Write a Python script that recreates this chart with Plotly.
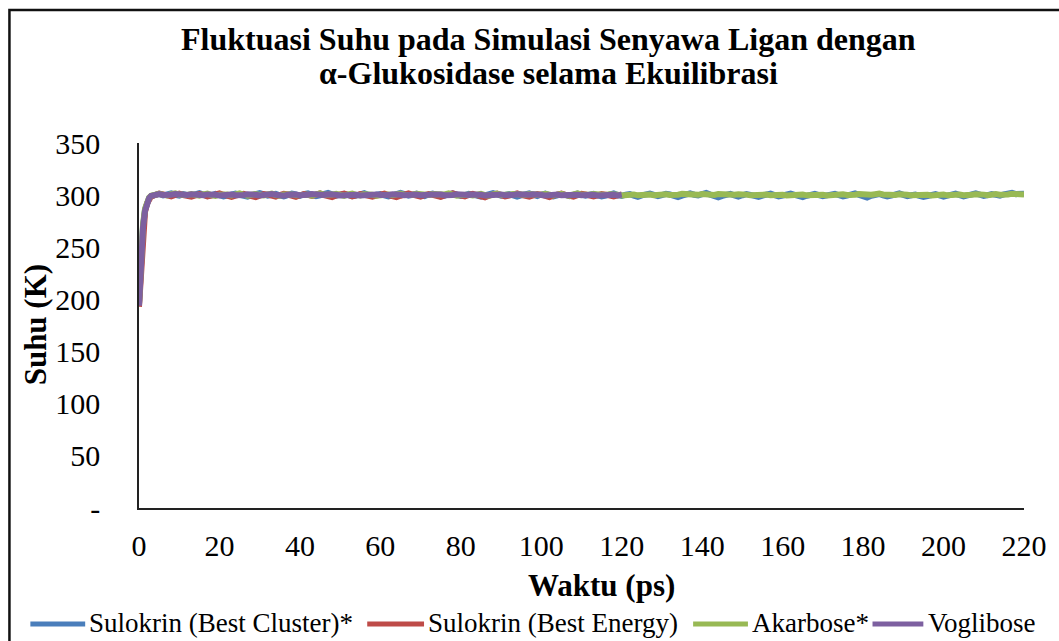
import plotly.graph_objects as go

# ---------------- data ----------------
TIME_START = [0, 0.5, 1, 1.5, 2, 2.5]
TIME_LONG = TIME_START + list(range(3, 221))
TIME_SHORT = TIME_START + list(range(3, 121))

sulokrin_cluster = [
    195, 238, 270, 286, 293, 297,
    299.1, 300.4, 301.2, 299.8, 300.9, 301.6, 300.2, 299.5, 301.0, 300.3,
    299.2, 300.8, 301.9, 300.5, 299.0, 300.1, 301.3, 300.0, 298.9, 299.7,
    300.9, 301.5, 300.2, 299.3, 298.6, 299.9, 301.1, 302.0, 300.7, 299.6,
    300.4, 301.2, 299.8, 298.8, 300.0, 301.4, 300.6, 299.4, 300.9, 301.7,
    300.3, 299.1, 299.9, 301.0, 302.1, 300.8, 299.5, 300.2, 301.3, 300.1,
    298.9, 299.6, 300.7, 301.8, 300.4, 299.2, 300.5, 301.1, 299.7, 298.7,
    299.8, 301.0, 302.2, 300.9, 299.6, 300.3, 301.5, 300.0, 299.0, 300.6,
    301.4, 300.2, 298.8, 299.5, 300.8, 301.6, 300.3, 299.3, 300.0, 301.2,
    300.5, 299.1, 298.5, 299.9, 301.3, 302.0, 300.7, 299.4, 300.1, 301.0,
    299.8, 298.6, 299.7, 300.9, 301.8, 300.4, 299.2, 300.6, 301.4, 300.0,
    298.9, 299.8, 301.1, 300.3, 299.0, 300.2, 301.5, 300.8, 299.5, 300.4,
    301.2, 299.9, 298.7, 299.6, 300.9, 301.7, 300.1, 299.3, 300.5, 301.0,
    299.6, 298.4, 299.8, 300.7, 301.5, 300.2, 299.1, 300.0, 301.3, 300.6,
    299.4, 298.2, 299.5, 300.8, 301.6, 300.4, 299.7, 300.9, 302.1, 300.5,
    299.0, 297.9, 299.3, 300.6, 301.2, 299.8, 298.6, 299.9, 301.0, 300.2,
    299.1, 298.3, 299.6, 300.8, 301.4, 300.0, 298.9, 299.7, 300.9, 301.5,
    300.3, 299.2, 298.1, 299.4, 300.7, 301.3, 300.1, 299.0, 299.8, 300.6,
    301.2, 299.9, 298.8, 299.5, 300.4, 301.6, 300.2, 298.9, 297.6, 299.3,
    300.5, 301.1, 299.8, 298.7, 299.6, 300.8, 301.7, 300.3, 299.0, 299.9,
    300.6, 299.4, 298.3, 299.2, 300.4, 301.0, 299.7, 298.6, 299.5, 300.7,
    301.4, 300.1, 298.9, 299.8, 300.9, 301.6, 300.4, 299.2, 300.0, 301.1,
    300.3, 299.6, 300.8, 301.9, 302.3, 301.0, 301.8, 301.4,
]

sulokrin_energy = [
    193, 232, 266, 284, 292, 296,
    298.6, 300.1, 301.5, 300.7, 299.2, 298.8, 300.3, 301.4, 300.0, 299.1,
    298.5, 299.8, 301.0, 300.2, 298.9, 299.6, 300.9, 301.7, 300.4, 299.0,
    298.3, 299.5, 300.8, 301.3, 300.0, 298.7, 298.2, 299.6, 301.0, 300.5,
    299.3, 298.6, 300.1, 301.2, 300.6, 299.0, 298.4, 299.9, 301.1, 300.3,
    299.2, 300.5, 301.6, 300.1, 298.8, 298.1, 299.7, 300.9, 301.4, 300.2,
    298.9, 299.8, 301.0, 300.4, 299.1, 298.5, 299.6, 300.8, 301.5, 300.0,
    298.7, 298.0, 299.4, 300.9, 301.7, 300.6, 299.2, 298.6, 300.0, 301.1,
    300.3, 299.0, 298.4, 299.7, 301.0, 301.8, 300.5, 299.3, 298.8, 300.2,
    301.3, 300.1, 298.9, 297.9, 299.5, 300.8, 301.4, 300.0, 298.7, 299.6,
    300.9, 301.6, 300.2, 299.0, 298.5, 299.8, 301.0, 300.4, 299.1, 298.2,
    299.6, 300.7, 301.5, 300.3, 299.0, 298.6, 300.0, 301.2, 300.6, 299.4,
    298.8, 299.9, 301.1, 300.5, 299.2, 298.7, 299.8, 300.6,
]

akarbose = [
    196, 240, 272, 287, 294, 297.5,
    299.5, 300.6, 301.3, 300.4, 299.7, 300.9, 301.8, 300.5, 299.9, 300.2,
    301.0, 300.3, 299.6, 300.7, 301.4, 300.0, 299.3, 300.5, 301.2, 300.6,
    299.8, 300.9, 301.6, 300.2, 299.5, 300.4, 301.1, 300.3, 299.7, 300.8,
    301.5, 300.1, 299.4, 300.6, 301.3, 300.7, 299.9, 300.2, 301.0, 300.4,
    299.6, 300.8, 301.7, 300.3, 299.8, 300.5, 301.2, 300.0, 299.4, 300.7,
    301.4, 300.2, 299.7, 300.9, 301.1, 300.4, 299.5, 300.3, 301.0, 300.6,
    299.9, 300.7, 301.5, 300.1, 299.6, 300.4, 301.3, 300.8, 299.8, 300.2,
    301.0, 300.5, 299.7, 300.6, 301.6, 300.3, 299.4, 300.1, 300.9, 300.4,
    299.8, 300.7, 301.2, 300.0, 299.5, 300.6, 301.4, 300.2, 299.7, 300.5,
    301.1, 300.4, 299.6, 300.3, 301.0, 300.8, 299.9, 300.2, 301.3, 300.6,
    299.7, 300.5, 301.2, 300.1, 299.5, 300.8, 301.6, 300.3, 299.8, 300.4,
    301.0, 300.6, 299.9, 300.2, 300.9, 301.3, 300.5, 299.7, 300.4, 301.0,
    300.7, 299.8, 300.3, 301.1, 300.6, 299.9, 300.5, 301.4, 300.9, 300.2,
    299.7, 300.4, 301.2, 300.8, 300.1, 299.6, 300.3, 301.0, 300.7, 299.9,
    300.2, 301.1, 300.6, 300.0, 299.5, 300.4, 300.9, 301.3, 300.5, 299.8,
    300.1, 300.8, 301.4, 300.6, 299.9, 300.3, 300.9, 300.4, 299.7, 300.2,
    300.8, 301.2, 300.5, 299.8, 300.1, 300.7, 301.0, 300.3, 299.6, 300.0,
    300.6, 301.3, 300.8, 300.2, 299.7, 300.4, 301.1, 300.5, 299.9, 300.3,
    300.9, 301.5, 300.6, 300.0, 299.5, 300.2, 300.8, 301.2, 300.4, 299.8,
    300.1, 300.7, 301.0, 300.3, 299.6, 300.2, 300.9, 300.5, 299.8, 300.4,
    301.1, 300.6, 300.0, 299.7, 300.3, 300.8, 301.2, 300.5, 299.9, 300.6,
    301.0, 300.4, 300.1, 300.7, 301.3, 300.8, 300.2, 300.6,
]

voglibose = [
    194, 236, 269, 285, 293, 297,
    299.3, 300.5, 301.0, 300.2, 299.6, 300.4, 301.1, 300.6, 299.8, 300.1,
    300.8, 300.3, 299.5, 300.0, 300.7, 301.2, 300.4, 299.7, 300.2, 300.9,
    300.5, 299.9, 299.4, 300.1, 300.8, 301.0, 300.3, 299.6, 300.2, 300.7,
    301.1, 300.4, 299.8, 299.5, 300.3, 300.9, 300.6, 300.0, 299.7, 300.4,
    301.0, 300.5, 299.9, 300.2, 300.8, 301.2, 300.4, 299.6, 300.1, 300.6,
    300.9, 300.3, 299.7, 300.0, 300.5, 301.1, 300.7, 300.1, 299.5, 300.2,
    300.8, 301.0, 300.4, 299.8, 300.3, 300.9, 300.5, 299.9, 299.6, 300.3,
    300.7, 301.2, 300.6, 300.0, 299.7, 300.2, 300.8, 300.4, 299.8, 300.1,
    300.6, 301.0, 300.3, 299.6, 299.9, 300.5, 301.1, 300.7, 300.0, 299.7,
    300.2, 300.8, 300.4, 299.9, 300.3, 300.9, 301.0, 300.2, 299.6, 300.1,
    300.7, 300.5, 299.8, 300.0, 300.6, 301.1, 300.4, 299.9, 300.2, 300.8,
    300.3, 299.7, 300.1, 300.6, 300.9, 300.4, 299.8, 300.5,
]

SERIES_NAMES = ["Sulokrin (Best Cluster)*", "Sulokrin (Best Energy)", "Akarbose*", "Voglibose"]
SERIES_VALUES = [sulokrin_cluster, sulokrin_energy, akarbose, voglibose]
SERIES_TIMES = [TIME_LONG, TIME_SHORT, TIME_LONG, TIME_SHORT]

Y_TICKS = [0, 50, 100, 150, 200, 250, 300, 350]
Y_TICK_TEXT = ["-", "50", "100", "150", "200", "250", "300", "350"]
X_TICKS = [0, 20, 40, 60, 80, 100, 120, 140, 160, 180, 200, 220]

TITLE_LINE1 = "Fluktuasi Suhu pada Simulasi Senyawa Ligan dengan"
TITLE_LINE2 = "α-Glukosidase selama Ekuilibrasi"
X_TITLE = "Waktu (ps)"
Y_TITLE = "Suhu (K)"

# ---------------- style ----------------
COLORS = ["#4A7EBB", "#BE4B48", "#98B954", "#7D60A0"]
FONT = "Liberation Serif, Times New Roman, serif"
W, H = 1059, 641
# plot area in page pixels: x 139..1027, y 143..508
L, R, T, B = 139, W - 1027, 143, H - 508
PW, PH = W - L - R, H - T - B


def px(xp):  # page pixel -> paper x
    return (xp - L) / PW


def py(yp):  # page pixel -> paper y
    return (H - B - yp) / PH


fig = go.Figure()
for name, vals, times, col in zip(SERIES_NAMES, SERIES_VALUES, SERIES_TIMES, COLORS):
    fig.add_trace(go.Scatter(
        x=times[:len(vals)], y=vals, name=name, mode="lines",
        line=dict(color=col, width=6), showlegend=False,
    ))

fig.update_layout(
    width=W, height=H,
    margin=dict(l=L, r=R, t=T, b=B, pad=0),
    paper_bgcolor="white", plot_bgcolor="white",
    font=dict(family=FONT, color="black"),
)
fig.update_xaxes(
    range=[0, 220], tickvals=X_TICKS, showgrid=False, zeroline=False,
    showline=True, linecolor="#222", linewidth=1.5,
    ticks="", tickfont=dict(size=30, family=FONT, color="black"),
    ticklabelstandoff=10,
)
fig.update_yaxes(
    range=[0, 350], tickvals=Y_TICKS, ticktext=Y_TICK_TEXT,
    showgrid=False, zeroline=False,
    showline=True, linecolor="#222", linewidth=1.5,
    ticks="", tickfont=dict(size=30, family=FONT, color="black"),
    ticklabelstandoff=31,
)

ann = []
ann.append(dict(text="<b>" + TITLE_LINE1 + "</b>", x=px(550), y=py(39), xref="paper", yref="paper",
                xanchor="center", yanchor="middle", showarrow=False,
                font=dict(size=32, family=FONT, color="black")))
ann.append(dict(text="<b>" + TITLE_LINE2 + "</b>", x=px(550), y=py(73), xref="paper", yref="paper",
                xanchor="center", yanchor="middle", showarrow=False,
                font=dict(size=32, family=FONT, color="black")))
ann.append(dict(text="<b>" + X_TITLE + "</b>", x=px(603), y=py(585), xref="paper", yref="paper",
                xanchor="center", yanchor="middle", showarrow=False,
                font=dict(size=31, family=FONT, color="black")))
ann.append(dict(text="<b>" + Y_TITLE + "</b>", x=px(35), y=py(325), xref="paper", yref="paper",
                xanchor="center", yanchor="middle", showarrow=False, textangle=-90,
                font=dict(size=31, family=FONT, color="black")))

shapes = []
# outer frame
shapes.append(dict(type="rect", xref="paper", yref="paper",
                   x0=px(9), x1=px(1075), y0=py(660), y1=py(10),
                   line=dict(color="#111", width=2.5), fillcolor="rgba(0,0,0,0)", layer="below"))

# legend
LEG_Y = 624
LEG_LINE_X = [(30, 85), (368, 425), (695, 750), (875, 926)]
LEG_TEXT_X = [87, 427, 752, 929]
for (x0, x1), tx, name, col in zip(LEG_LINE_X, LEG_TEXT_X, SERIES_NAMES, COLORS):
    shapes.append(dict(type="line", xref="paper", yref="paper",
                       x0=px(x0), x1=px(x1), y0=py(LEG_Y), y1=py(LEG_Y),
                       line=dict(color=col, width=5)))
    ann.append(dict(text=name, x=px(tx), y=py(LEG_Y - 1), xref="paper", yref="paper",
                    xanchor="left", yanchor="middle", showarrow=False,
                    font=dict(size=27, family=FONT, color="black")))

fig.update_layout(annotations=ann, shapes=shapes)
fig.write_html(
    "out.html",
    config={"displayModeBar": False},
    post_script="document.body.style.margin='0';document.body.style.overflow='hidden';",
)
